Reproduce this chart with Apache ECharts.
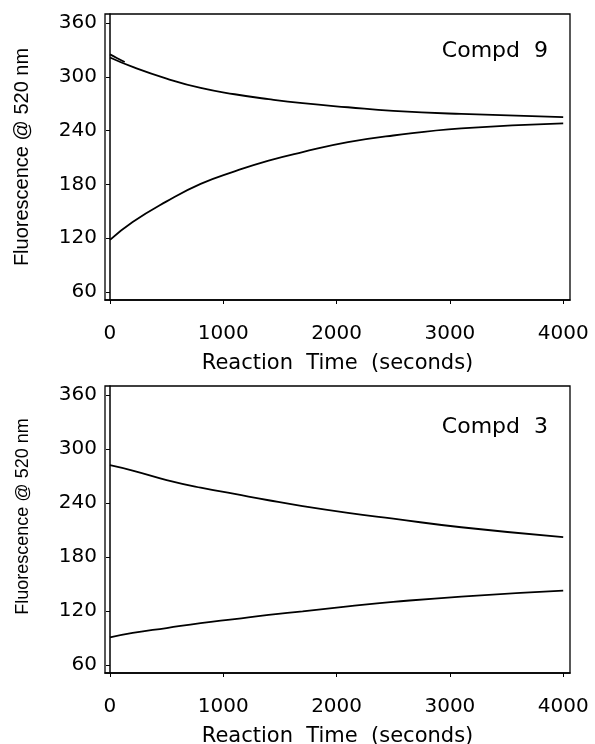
<!DOCTYPE html>
<html>
<head>
<meta charset="utf-8">
<script src="https://cdn.jsdelivr.net/npm/echarts@6/dist/echarts.min.js"></script>
<style>
  html, body { margin: 0; padding: 0; background: #fff; }
  #chart { width: 595px; height: 744px; }
</style>
</head>
<body>
<div id="chart"></div>
<script>
// reaction time (s) at which the traces were read
let timePoints = [0, 200, 500, 800, 1100, 1400, 1700, 2100, 2500, 3100, 4000]

// Compd 9 (top panel)
let compd9Upper = [321.5, 311, 298, 287.5, 280.5, 275, 270.5, 266, 262, 258.5, 255]
let compd9Lower = [118, 138, 161, 180.5, 194.5, 206.5, 216, 227, 234.5, 242.5, 248]
// short raw trace that splits off at the very start
let compd9RawTimes = [0, 60, 130]
let compd9RawValues = [325, 321, 316.5]

// Compd 3 (bottom panel)
let compd3Upper = [282, 276, 265.5, 257, 250, 243, 236.5, 229, 222.5, 213, 202]
let compd3Lower = [90.5, 95.5, 101, 106.5, 111, 115.5, 119.5, 125, 130, 136, 142.5]

let xTicks = [0, 1000, 2000, 3000, 4000]
let yTicks = [60, 120, 180, 240, 300, 360]
let panelLabels = ['Compd  9', 'Compd  3']

let labelFont = 'DejaVu Sans'

function pairs(xs, ys) {
    let ret = []
    for (let i = 0; i < xs.length; i++) {
        ret.push([xs[i], ys[i]])
    }
    return ret
}

function makeX(idx) {
    return {
        type: 'value',
        gridIndex: idx,
        min: -44,
        max: 4060,
        axisLine: {show: true, lineStyle: {color: '#000', width: 1.5}},
        axisTick: {show: true, inside: false, length: 4, customValues: xTicks, lineStyle: {color: '#000', width: 1}},
        axisLabel: {
            customValues: xTicks, margin: 24, color: '#000', fontFamily: labelFont, fontSize: 20,
            formatter: function (v) { return String(v) }
        },
        splitLine: {show: false},
        name: 'Reaction  Time  (seconds)',
        nameLocation: 'middle',
        nameGap: 53,
        nameTextStyle: {color: '#000', fontFamily: labelFont, fontSize: 21}
    }
}

function makeY(idx, size, shift) {
    return {
        type: 'value',
        gridIndex: idx,
        min: 51,
        max: 370,
        axisLine: {show: true, lineStyle: {color: '#000', width: 1.5}},
        axisTick: {show: true, inside: false, length: 4, customValues: yTicks, lineStyle: {color: '#000', width: 1}},
        axisLabel: {customValues: yTicks, margin: 8, color: '#000', fontFamily: labelFont, fontSize: 20},
        splitLine: {show: false},
        name: 'Fluorescence @ 520 nm',
        nameLocation: 'middle',
        nameRotate: 90,
        nameGap: 73,
        // left padding moves the rotated name up along the axis
        nameTextStyle: {color: '#000', fontFamily: 'Liberation Sans', fontSize: size, padding: [0, 0, 0, shift]}
    }
}

function line(name, idx, data) {
    return {
        name: name,
        type: 'line',
        xAxisIndex: idx,
        yAxisIndex: idx,
        data: data,
        smooth: true,
        showSymbol: false,
        lineStyle: {color: '#000', width: 1.8},
        animation: false
    }
}

let myChart = echarts.init(document.getElementById('chart'))
let option = {
    backgroundColor: '#fff',
    animation: false,
    title: [
        {text: panelLabels[0], right: 47, top: 40, padding: 0, textStyle: {color: '#000', fontFamily: labelFont, fontSize: 22, fontWeight: 'normal'}},
        {text: panelLabels[1], right: 47, top: 416, padding: 0, textStyle: {color: '#000', fontFamily: labelFont, fontSize: 22, fontWeight: 'normal'}}
    ],
    grid: [
        {left: 105, right: 25, top: 14, height: 286, show: true, borderColor: '#000', borderWidth: 1.3, backgroundColor: 'transparent', outerBoundsMode: 'none', containLabel: false},
        {left: 105, right: 25, top: 386, height: 287, show: true, borderColor: '#000', borderWidth: 1.3, backgroundColor: 'transparent', outerBoundsMode: 'none', containLabel: false}
    ],
    xAxis: [makeX(0), makeX(1)],
    yAxis: [makeY(0, 20, 0), makeY(1, 18, 26)],
    series: [
        line('Compd 9 upper', 0, pairs(timePoints, compd9Upper)),
        line('Compd 9 raw', 0, pairs(compd9RawTimes, compd9RawValues)),
        line('Compd 9 lower', 0, pairs(timePoints, compd9Lower)),
        line('Compd 3 upper', 1, pairs(timePoints, compd3Upper)),
        line('Compd 3 lower', 1, pairs(timePoints, compd3Lower))
    ]
}
myChart.setOption(option)
</script>
</body>
</html>
